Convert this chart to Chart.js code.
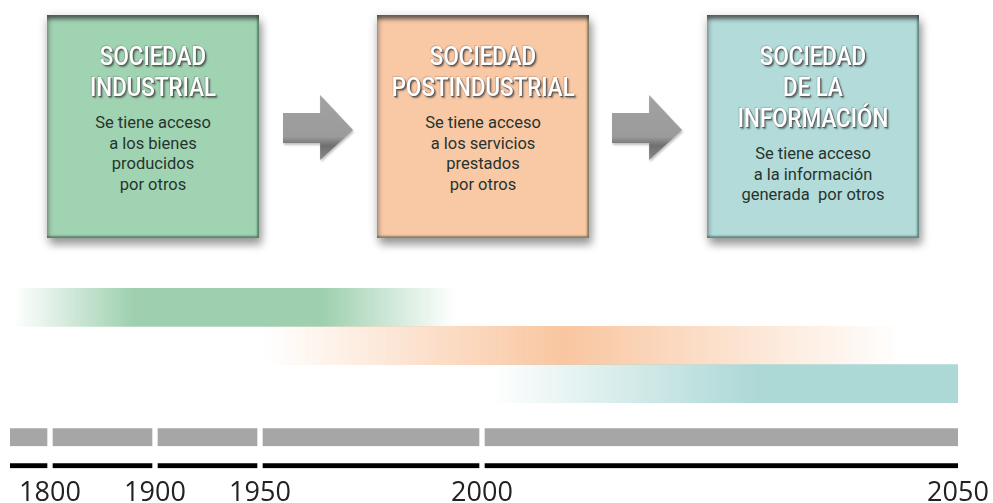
<!DOCTYPE html>
<html lang="es">
<head>
<meta charset="utf-8">
<title>Sociedad industrial, postindustrial y de la información</title>
<script src="https://cdn.jsdelivr.net/npm/chart.js@4.4.1/dist/chart.umd.min.js"></script>
<style>
  html, body { margin: 0; padding: 0; background: #fff; overflow: hidden; }
  #page { position: relative; width: 993px; height: 503px; }
  .box {
    position: absolute; top: 15px; width: 212px; height: 223px;
    box-sizing: border-box; text-align: center;
    font-family: Roboto, "Noto Sans", sans-serif;
    box-shadow: 3px 7px 8px rgba(0,0,0,0.32), 0 2px 10px rgba(0,0,0,0.18),
      inset 0 7px 4px -3px rgba(60,60,60,0.8), inset 5px 0 4px -3px rgba(90,90,90,0.55),
      inset -3px -3px 2px -1px rgba(0,40,20,0.45);
    padding-top: 26px;
  }
  .box .title div {
    color: #fff; font-size: 26px; line-height: 31px; font-weight: 500;
    transform: scaleX(0.86);
    text-shadow: 1px 1px 0 #5a5a5a, 2px 2px 2px rgba(0,0,0,0.45), -1px -1px 1px rgba(0,0,0,0.15);
  }
  .box .text { margin-top: 10px; color: #27332e; font-size: 16.5px; line-height: 20.5px; }
  .arrow { position: absolute; top: 95px; width: 70px; height: 65px; filter: drop-shadow(1px 2px 1px rgba(0,0,0,0.25)); }
  .arrow div {
    width: 100%; height: 100%;
    background: linear-gradient(#a2a2a2 0%, #9b9b9b 64%, #6f6f6f 78%, #8a8a8a 100%);
    clip-path: polygon(0 27.7%, 53% 27.7%, 53% 0, 100% 54%, 53% 100%, 53% 73.8%, 0 73.8%);
  }
  .chart { position: absolute; left: 0; width: 993px; }
</style>
</head>
<body>
<div id="page">
  <div id="boxes"></div>
  <div class="chart" style="top:288px;height:115px"><canvas id="erasChart"></canvas></div>
  <div class="chart" style="top:420px;height:87px"><canvas id="timelineChart"></canvas></div>
</div>
<script>
// === data ===
const boxTitles = [['SOCIEDAD', 'INDUSTRIAL'], ['SOCIEDAD', 'POSTINDUSTRIAL'], ['SOCIEDAD', 'DE LA', 'INFORMACIÓN']];
const boxTexts = [
  ['Se tiene acceso', 'a los bienes', 'producidos', 'por otros'],
  ['Se tiene acceso', 'a los servicios', 'prestados', 'por otros'],
  ['Se tiene acceso', 'a la información', 'generada  por otros']
];

const eras = ['Sociedad industrial', 'Sociedad postindustrial', 'Sociedad de la información'];
const eraStart = [1755, 1951, 2001];
const eraEnd = [1994, 2044, 2050];

const periodStart = [1750, 1800, 1900, 1950, 2000];
const periodEnd = [1800, 1900, 1950, 2000, 2050];
const tickYears = [1800, 1900, 1950, 2000, 2050];

// === styles ===
const boxColors = ['#a0d3b2', '#f9c8a5', '#b2dbd9'];
const boxLeft = [47, 377, 707];
const arrowLeft = [283, 612];
const eraRgb = ['158,208,175', '249,198,160', '172,216,214'];
const eraFade = [
  [[0, 0], [0.27, 1], [0.7, 1], [1, 0]],
  [[0, 0], [0.47, 1], [1, 0]],
  [[0, 0], [0.57, 1], [1, 1]]
];
// pixel share of each period on the (non linear) timeline
const periodShare = [40, 105, 105, 222, 476];

// === boxes + arrows (html) ===
const boxesEl = document.getElementById('boxes');
boxTitles.forEach((title, i) => {
  const b = document.createElement('div');
  b.className = 'box';
  b.style.left = boxLeft[i] + 'px';
  b.style.background = boxColors[i];
  b.innerHTML = '<div class="title">' + title.map(t => '<div>' + t + '</div>').join('') + '</div>' +
    '<div class="text">' + boxTexts[i].map(t => '<div>' + t.replace(/ {2}/g, ' &nbsp;') + '</div>').join('') + '</div>';
  boxesEl.appendChild(b);
});
arrowLeft.forEach(x => {
  const a = document.createElement('div');
  a.className = 'arrow';
  a.style.left = x + 'px';
  a.innerHTML = '<div></div>';
  boxesEl.appendChild(a);
});

// === piecewise timeline scale ===
class TimelineScale extends Chart.LinearScale {
  buildTicks() {
    this.start = this.min;
    this.end = this.max;
    return this.options.marks.map(v => ({ value: v }));
  }
  getPixelForValue(value) {
    const stops = this.options.stops, share = this.options.share;
    const total = share.reduce((a, b) => a + b, 0);
    let acc = 0;
    for (let i = 0; i < share.length; i++) {
      const a = stops[i], b = stops[i + 1];
      if (value <= b || i === share.length - 1) {
        acc += share[i] * (value - a) / (b - a);
        break;
      }
      acc += share[i];
    }
    return this.getPixelForDecimal(acc / total);
  }
  getValueForPixel(pixel) {
    const stops = this.options.stops, share = this.options.share;
    const total = share.reduce((a, b) => a + b, 0);
    let pos = this.getDecimalForPixel(pixel) * total;
    for (let i = 0; i < share.length; i++) {
      if (pos <= share[i] || i === share.length - 1) {
        return stops[i] + (stops[i + 1] - stops[i]) * pos / share[i];
      }
      pos -= share[i];
    }
  }
}
TimelineScale.id = 'timeline';
TimelineScale.defaults = { ticks: { callback: v => String(v) } };
Chart.register(TimelineScale);

const stopYears = [periodStart[0]].concat(periodEnd);

function timelineAxis(show) {
  return {
    type: 'timeline',
    min: periodStart[0],
    max: periodEnd[periodEnd.length - 1],
    stops: stopYears,
    share: periodShare,
    marks: tickYears,
    display: show,
    grid: { display: false, drawTicks: false },
    border: { display: false },
    ticks: {
      autoSkip: false, maxRotation: 0, padding: 0,
      color: '#222',
      font: { family: '"Open Sans", sans-serif', size: 27, lineHeight: 1 },
      callback: v => String(v)
    }
  };
}

// === eras chart (gradient bars) ===
new Chart(document.getElementById('erasChart'), {
  type: 'bar',
  data: {
    labels: eras,
    datasets: [{
      data: eras.map((_, i) => [eraStart[i], eraEnd[i]]),
      barPercentage: 1,
      categoryPercentage: 1,
      backgroundColor: c => {
        const chart = c.chart;
        const i = c.dataIndex;
        if (c.type !== 'data' || !chart.chartArea) return 'rgba(' + eraRgb[0] + ',1)';
        const x = chart.scales.x;
        const g = chart.ctx.createLinearGradient(x.getPixelForValue(eraStart[i]), 0, x.getPixelForValue(eraEnd[i]), 0);
        eraFade[i].forEach(([p, a]) => g.addColorStop(p, 'rgba(' + eraRgb[i] + ',' + a + ')'));
        return g;
      }
    }]
  },
  options: {
    indexAxis: 'y',
    responsive: true,
    maintainAspectRatio: false,
    animation: false,
    layout: { padding: { left: 10, right: 35, top: 0, bottom: 0 } },
    plugins: { legend: { display: false }, tooltip: { enabled: false } },
    scales: {
      x: timelineAxis(false),
      y: { display: false }
    }
  }
});

// === timeline chart (gray periods + black scale) ===
const segBorder = c => ({
  top: 0, bottom: 0,
  left: c.dataIndex === 0 ? 0 : 3,
  right: c.dataIndex === periodStart.length - 1 ? 0 : 3
});

new Chart(document.getElementById('timelineChart'), {
  type: 'bar',
  data: {
    labels: ['Períodos', 'Años'],
    datasets: [{
      data: periodStart.map((s, i) => ({ y: 'Períodos', x: [s, periodEnd[i]] })),
      backgroundColor: '#a6a6a6',
      barThickness: 18,
      grouped: false,
      borderSkipped: false,
      borderColor: 'rgba(0,0,0,0)',
      borderWidth: segBorder
    }, {
      data: periodStart.map((s, i) => ({ y: 'Años', x: [s, periodEnd[i]] })),
      backgroundColor: '#000',
      barThickness: 5,
      grouped: false,
      borderSkipped: false,
      borderColor: 'rgba(0,0,0,0)',
      borderWidth: segBorder
    }]
  },
  options: {
    indexAxis: 'y',
    responsive: true,
    maintainAspectRatio: false,
    animation: false,
    layout: { padding: { left: 10, right: 35, top: 3, bottom: 0 } },
    plugins: { legend: { display: false }, tooltip: { enabled: false } },
    scales: {
      x: timelineAxis(true),
      y: { display: false }
    }
  }
});
</script>
</body>
</html>
